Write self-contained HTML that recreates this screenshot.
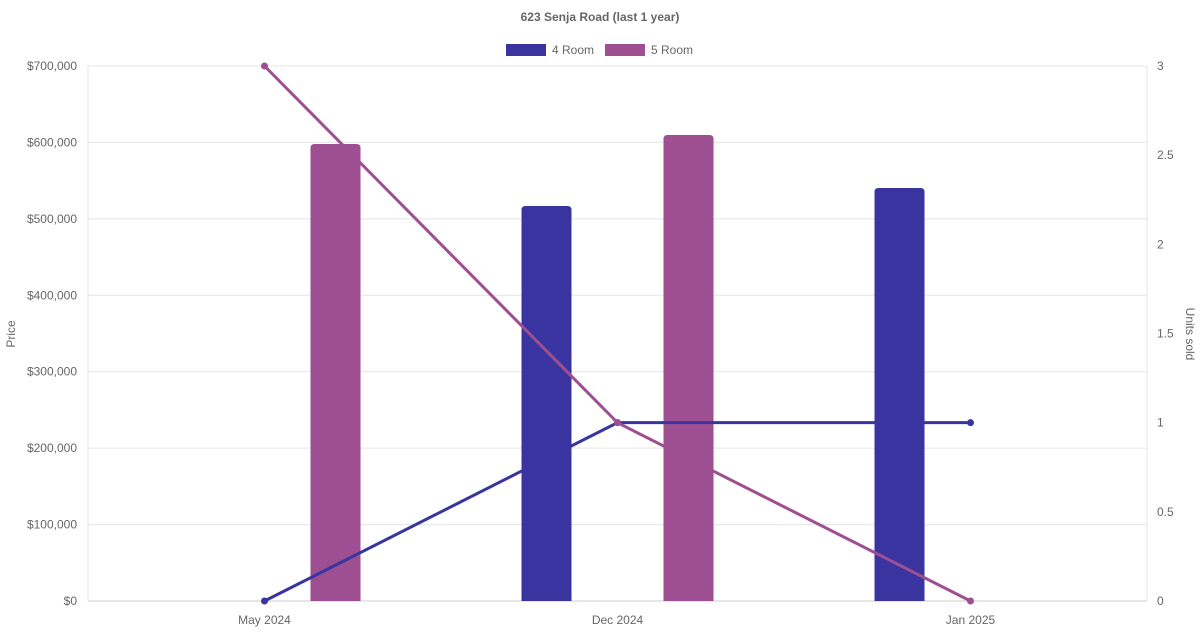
<!DOCTYPE html>
<html><head><meta charset="utf-8"><style>
body{margin:0;background:#fff;font-family:"Liberation Sans",sans-serif;}
svg text{font-family:"Liberation Sans",sans-serif;}
</style></head><body>
<svg id="c" width="1200" height="630"></svg>
<script>
const categories=["May 2024","Dec 2024","Jan 2025"];
const price4=[null,516800,540400];
const price5=[598000,609700,null];
const units4=[0,1,1];
const units5=[3,1,0];
const priceTicks=[0,100000,200000,300000,400000,500000,600000,700000];
const unitTicks=[0,0.5,1,1.5,2,2.5,3];
const C4="#3a34a0",C5="#9e4f92";
const svg=document.getElementById('c');
const NS="http://www.w3.org/2000/svg";
const L=88,R=1147,T=66,B=601;
const yP=v=>B-(v/700000)*(B-T);
const yU=v=>B-(v/3)*(B-T);
const xC=i=>L+(R-L)/categories.length*(i+0.5);
function mk(t,a,txt){const e=document.createElementNS(NS,t);for(const k in a)e.setAttribute(k,a[k]);if(txt!=null)e.textContent=txt;svg.appendChild(e);return e;}
let e;
e=mk('text',{x:600,y:21,'text-anchor':'middle','font-size':12,'font-weight':'bold',fill:'#666'},'623 Senja Road (last 1 year)');

[[506,C4,'4 Room'],[605,C5,'5 Room']].forEach(([x,c,t])=>{
 e=mk('rect',{x:x,y:44,width:40,height:12,fill:c});
 
 e=mk('text',{x:x+46,y:54,'font-size':12,fill:'#666'},t);
 
});
priceTicks.forEach(v=>{
 e=mk('line',{x1:L,x2:R,y1:yP(v),y2:yP(v),stroke:v===0?'#ccc':'#e5e5e5'});
 
 e=mk('text',{x:77,y:yP(v)+4,'text-anchor':'end','font-size':12,fill:'#666'},'$'+v.toLocaleString('en-US'));
 
});
unitTicks.forEach(v=>{
 e=mk('text',{x:1157,y:yU(v)+4,'font-size':12,fill:'#666'},String(v));
 
});
e=mk('line',{x1:L,x2:L,y1:T,y2:B,stroke:'#e5e5e5'});
e=mk('line',{x1:R,x2:R,y1:T,y2:B,stroke:'#e5e5e5'});
e=mk('text',{x:15,y:334,'text-anchor':'middle','font-size':12,fill:'#666',transform:'rotate(-90 15 334)'},'Price');

e=mk('text',{x:1186,y:334,'text-anchor':'middle','font-size':12,fill:'#666',transform:'rotate(90 1186 334)'},'Units sold');

categories.forEach((c,i)=>{
 e=mk('text',{x:xC(i),y:624,'text-anchor':'middle','font-size':12,fill:'#666'},c);
 
});
function bar(v,cx,c){
 const y=yP(v),w=50,x=cx-w/2,h=B-y,r=4;
 e=mk('path',{d:`M${x},${B}V${y+r}Q${x},${y} ${x+r},${y}H${x+w-r}Q${x+w},${y} ${x+w},${y+r}V${B}Z`,fill:c});
 
}
categories.forEach((c,i)=>{
 if(price4[i]!=null)bar(price4[i],xC(i)-71,C4);
 if(price5[i]!=null)bar(price5[i],xC(i)+71,C5);
});
[[units4,C4,'units-line-4-room'],[units5,C5,'units-line-5-room']].forEach(([d,c,n])=>{
 e=mk('polyline',{points:d.map((v,i)=>xC(i)+','+yU(v)).join(' '),fill:'none',stroke:c,'stroke-width':3});
 
 d.forEach((v,i)=>{
  e=mk('circle',{cx:xC(i),cy:yU(v),r:3.5,fill:c});
  
 });
});
</script>
</body></html>
